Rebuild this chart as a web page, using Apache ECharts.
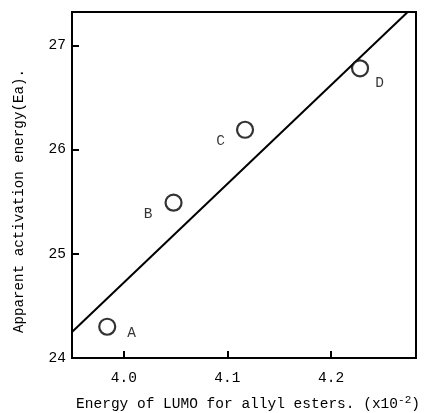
<!DOCTYPE html>
<html><head><meta charset="utf-8">
<script src="https://cdn.jsdelivr.net/npm/echarts@6/dist/echarts.min.js"></script>
<style>html,body{margin:0;padding:0;background:#fff}#c{width:424px;height:413px}</style>
</head><body><div id="c"></div>
<script>
const pointNames = ['A', 'B', 'C', 'D'];
const lumoX = [3.984, 4.048, 4.117, 4.228];
const eaY = [24.30, 25.49, 26.19, 26.78];
const fitX = [3.95, 4.274];
const fitY = [24.25, 27.32];
const xTicks = [4.0, 4.1, 4.2];
const yTicks = [24, 25, 26, 27];

const FONT = 'Liberation Mono';
const labelStyle = {
  A: {position: 'right', offset: [6, 6]},
  B: {position: 'left', offset: [-7, 11]},
  C: {position: 'left', offset: [-6, 11]},
  D: {position: 'right', offset: [1, 15]}
};
const chart = echarts.init(document.getElementById('c'), null, {renderer: 'canvas'});
chart.setOption({
  animation: false,
  backgroundColor: '#fff',
  grid: {left: 72, top: 12, right: 8, bottom: 55, outerBoundsMode: 'none', containLabel: false,
    show: true, borderColor: '#000', borderWidth: 2, backgroundColor: 'transparent'},
  xAxis: {
    type: 'value', min: 3.95, max: 4.282,
    axisLine: {show: true, onZero: false, lineStyle: {color: '#000', width: 2}},
    axisTick: {show: true, inside: true, length: 7, lineStyle: {color: '#000', width: 2},
      customValues: xTicks},
    axisLabel: {color: '#000', fontFamily: FONT, fontSize: 14.5, margin: 13,
      customValues: xTicks, formatter: v => v.toFixed(1)},
    splitLine: {show: false},
    name: 'Energy of LUMO for allyl esters. (x10{sup|-2})',
    nameLocation: 'middle', nameGap: 37,
    nameTextStyle: {color: '#000', fontFamily: FONT, fontSize: 14.5, padding: [0, 0, 0, 8],
      rich: {sup: {fontFamily: FONT, fontSize: 11, verticalAlign: 'top', padding: [0, 0, 8, 0], color: '#000'}}}
  },
  yAxis: {
    type: 'value', min: 24, max: 27.32,
    axisLine: {show: true, onZero: false, lineStyle: {color: '#000', width: 2}},
    axisTick: {show: true, inside: true, length: 7, lineStyle: {color: '#000', width: 2},
      customValues: yTicks},
    axisLabel: {color: '#000', fontFamily: FONT, fontSize: 14.5, margin: 6,
      customValues: yTicks, formatter: v => String(v)},
    splitLine: {show: false},
    name: 'Apparent activation energy(Ea).',
    nameLocation: 'middle', nameGap: 46,
    nameTextStyle: {color: '#000', fontFamily: FONT, fontSize: 14.2, padding: [0, 32, 0, 0]}
  },
  series: [
    {
      type: 'line', data: fitX.map((x, i) => [x, fitY[i]]),
      showSymbol: false, symbol: 'none',
      lineStyle: {color: '#000', width: 2}, z: 2
    },
    {
      type: 'scatter', symbol: 'circle', symbolSize: 16, z: 3,
      itemStyle: {color: '#fff', borderColor: '#000', borderWidth: 2.2},
      data: pointNames.map((n, i) => ({
        value: [lumoX[i], eaY[i]], name: n,
        label: Object.assign({show: true, formatter: n, color: '#000', fontFamily: FONT, fontSize: 14.5}, labelStyle[n])
      }))
    }
  ]
});
</script></body></html>
